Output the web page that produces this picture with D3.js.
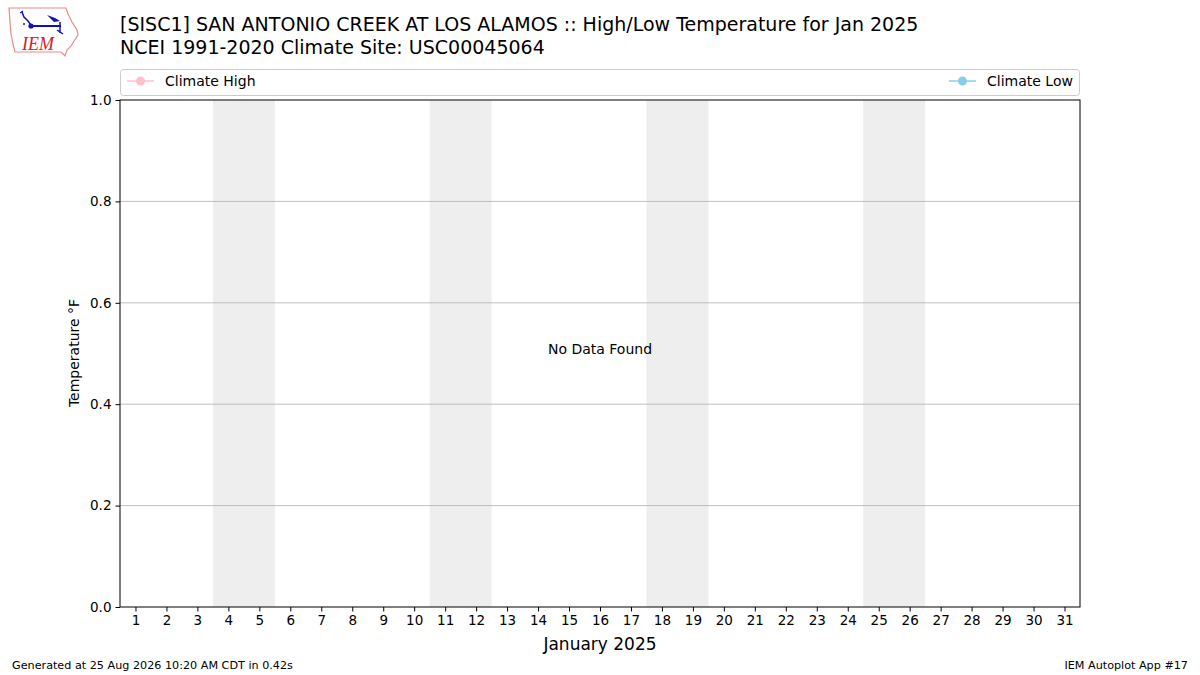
<!DOCTYPE html>
<html><head><meta charset="utf-8">
<script src="https://cdn.jsdelivr.net/npm/d3@7"></script>
<style>body{margin:0;background:#fff}svg{display:block;font-family:"DejaVu Sans",sans-serif}</style>
</head><body><svg id="c" width="1200" height="675"></svg>
<script>
const days = d3.range(1, 32);
const weekendSpans = [[4,5],[11,12],[18,19],[25,26]];
const yTicks = [0.0, 0.2, 0.4, 0.6, 0.8, 1.0];
const climateHigh = [];
const climateLow = [];
const titleLines = ["[SISC1] SAN ANTONIO CREEK AT LOS ALAMOS :: High/Low Temperature for Jan 2025",
                    "NCEI 1991-2020 Climate Site: USC00045064"];
const legendItems = [{name:"Climate High", color:"#ffc0cb"},{name:"Climate Low", color:"#87ceeb"}];

const svg = d3.select("#c");
const L=120,R=1080,T=100,B=607;
const x = d3.scaleLinear().domain([0.5,31.5]).range([L,R]);
const y = d3.scaleLinear().domain([0,1]).range([B,T]);

// logo
const lg = svg.append("g");
lg.append("path").attr("d","M9,8 L66,8 L68,14 L72,22 L77,30 L78,35 L74,41 L71,46 L67,50 L65,56 L61,52 L15,52 L13,44 L11,34 L10,22 Z")
  .attr("fill","none").attr("stroke","#ec8a8a").attr("stroke-width",1.2);
lg.append("path").attr("d","M22,12 L24,17 L28,21 L31,25").attr("stroke","#1010c0").attr("fill","none").attr("stroke-width",1.5);
lg.append("path").attr("d","M20,13 L23,11").attr("stroke","#1010c0").attr("fill","none").attr("stroke-width",1.2);
lg.append("circle").attr("cx",24).attr("cy",24).attr("r",1).attr("fill","#1010c0");
lg.append("circle").attr("cx",31).attr("cy",26).attr("r",2.6).attr("fill","#1010c0");
lg.append("path").attr("d","M32,26 L61,26").attr("stroke","#1010c0").attr("stroke-width",2);
lg.append("path").attr("d","M47,15 L55,18 L60,21 L54,22 Z").attr("fill","#1010c0");
lg.append("path").attr("d","M60,22 L60,33 M57,30 L63,34").attr("stroke","#1010c0").attr("fill","none").attr("stroke-width",1.5);
lg.append("text").attr("x",22).attr("y",50).attr("fill","#d42020").attr("font-family","Liberation Serif, serif").attr("font-style","italic").attr("font-size",18).text("IEM");

// titles
titleLines.forEach((t,i)=>svg.append("text").attr("x",120).attr("y",31+i*23).attr("font-size",19).attr("fill","#000").text(t));

// legend
svg.append("rect").attr("x",120.5).attr("y",69.5).attr("width",959).attr("height",26).attr("rx",3).attr("fill","#fff").attr("stroke","#cccccc");
const lx=[127, 949];
legendItems.forEach((d,i)=>{
  const g=svg.append("g");
  g.append("line").attr("x1",lx[i]).attr("x2",lx[i]+27).attr("y1",81).attr("y2",81).attr("stroke",d.color).attr("stroke-width",1.5);
  g.append("circle").attr("cx",lx[i]+13.5).attr("cy",81).attr("r",4.5).attr("fill",d.color);
  g.append("text").attr("x",lx[i]+38).attr("y",86).attr("font-size",14).text(d.name);
});

// weekend shading
svg.selectAll("rect.wk").data(weekendSpans).enter().append("rect").attr("class","wk")
  .attr("x",d=>x(d[0]-0.5)).attr("width",d=>x(d[1]+0.5)-x(d[0]-0.5))
  .attr("y",T).attr("height",B-T).attr("fill","#eeeeee");

// grid
svg.selectAll("line.grid").data(yTicks.filter(v=>v>0&&v<1)).enter().append("line").attr("class","grid")
  .attr("x1",L).attr("x2",R).attr("y1",d=>y(d)).attr("y2",d=>y(d)).attr("stroke","#b0b0b0").attr("stroke-width",0.8);

// data lines (empty)
const line=d3.line().x((d,i)=>x(days[i])).y(d=>y(d));
svg.append("path").datum(climateHigh).attr("d",line).attr("stroke","#ffc0cb").attr("fill","none");
svg.append("path").datum(climateLow).attr("d",line).attr("stroke","#87ceeb").attr("fill","none");

// axes
const xa=svg.append("g").attr("transform",`translate(0,${B})`).call(d3.axisBottom(x).tickValues(days).tickFormat(d3.format("d")).tickSize(4.5).tickPadding(4));
const ya=svg.append("g").attr("transform",`translate(${L},0)`).call(d3.axisLeft(y).tickValues(yTicks).tickFormat(d3.format(".1f")).tickSize(4.5).tickPadding(4));
[xa,ya].forEach(a=>{a.selectAll("text").attr("font-size",13.5).attr("font-family","DejaVu Sans").attr("fill","#000");a.select(".domain").remove();a.selectAll(".tick line").attr("stroke","#000").attr("stroke-width",1);});
svg.append("rect").attr("x",L).attr("y",T).attr("width",R-L).attr("height",B-T).attr("fill","none").attr("stroke","#000").attr("stroke-width",1);

// labels
svg.append("text").attr("x",600).attr("y",354).attr("text-anchor","middle").attr("font-size",14).text("No Data Found");
svg.append("text").attr("transform","translate(79,353) rotate(-90)").attr("text-anchor","middle").attr("font-size",14).text("Temperature °F");
svg.append("text").attr("x",600).attr("y",650).attr("text-anchor","middle").attr("font-size",17).text("January 2025");
svg.append("text").attr("x",12).attr("y",669).attr("font-size",11.2).text("Generated at 25 Aug 2026 10:20 AM CDT in 0.42s");
svg.append("text").attr("x",1188).attr("y",669).attr("text-anchor","end").attr("font-size",11.2).text("IEM Autoplot App #17");
</script></body></html>
